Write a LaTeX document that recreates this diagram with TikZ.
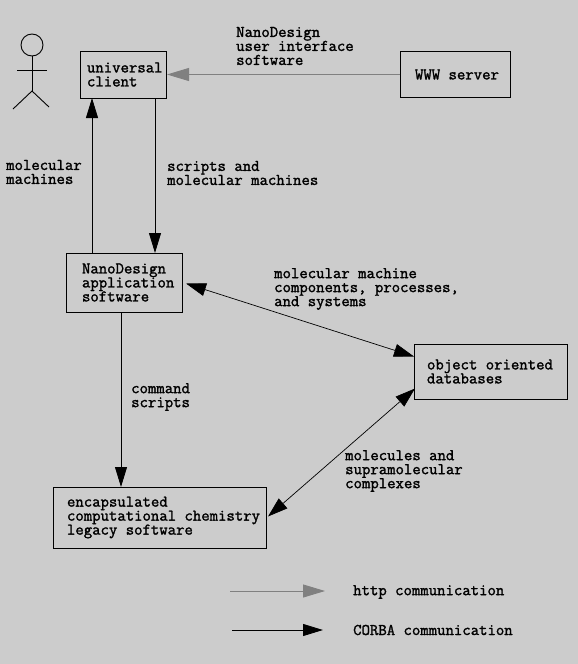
\documentclass[tikz,border=0pt]{standalone}
\usepackage{fontspec}
\usepackage{tikz}
\usetikzlibrary{arrows.meta, calc, positioning}
\newfontfamily\labelfont[FakeBold=1.6, WordSpace={1,0,0}]{Latin Modern Mono}

\begin{document}
\begin{tikzpicture}[
    x=1pt, y=-1pt,
    every node/.style={font=\fontsize{16.3}{14}\selectfont\labelfont},
    box/.style={rectangle, draw, line width=1pt, inner xsep=0pt, inner ysep=0pt, outer sep=0pt},
    pad/.style={execute at begin node={\leftskip=#1\relax\spaceskip=0pt\relax\xspaceskip=0pt\relax}},
    note/.style={anchor=west, align=left, inner sep=0pt},
    corba/.style={-{Triangle[length=20pt, width=12pt]}, line width=0.9pt},
    corbaboth/.style={{Triangle[length=20pt, width=13pt]}-{Triangle[length=20pt, width=13pt]}, line width=0.7pt},
    http/.style={-{Triangle[length=22pt, width=13pt]}, line width=0.9pt, draw=black!50, fill=black!50},
]

\fill[black!20] (0,0) rectangle (578,664);
\useasboundingbox (0,0) rectangle (578,664);

% actor
\node[circle, draw, line width=0.9pt, minimum size=22pt, inner sep=0pt, outer sep=0pt] (head) at (32,45) {};
\coordinate (hip) at (32,91);
\draw[line width=0.9pt] (head.south) -- (hip);
\draw[line width=0.9pt] (17,70) -- (47,70);
\draw[line width=0.9pt] (13,109) -- (hip) -- (49,107);

\node[box, text width=86pt, minimum height=47pt, pad=7pt] (client) at (123,74.5) {universal\\client};
\node[box, text width=110pt, minimum height=46pt, pad=15pt] (www) [right=234pt of client] {WWW server};
\node[box, text width=116pt, minimum height=59pt, pad=16pt] (app) [below=155pt of client, xshift=1pt] {NanoDesign\\application\\software};
\node[box, text width=153pt, minimum height=55pt, pad=13pt] (db) [right=232pt of app, yshift=-89pt] {object oriented\\databases};
\node[box, text width=213pt, minimum height=61pt, pad=14pt] (legacy) [below=175pt of app, xshift=35.5pt] {encapsulated\\computational chemistry\\legacy software};

\node[note] (uilabel) at (236,46) {NanoDesign\\user interface\\software};
\node[note] (machlabel) at (6,172) {molecular\\machines};
\node[note] (scriptlabel) at (167,173) {scripts and\\molecular machines};
\node[note] (partlabel) at (274,289) {molecular machine\\components, processes,\\and systems};
\node[note] (cmdlabel) at (131,397) {command\\scripts};
\node[note] (molelabel) at (345,471) {molecules and\\supramolecular\\complexes};

\draw[http] (www.west) -- ($(client.east)+(1,0)$);
\draw[corba] ($(app.north west)+(26,0)$) -- ($(client.south west)+(12,0)$);
\draw[corba] ($(client.south west)+(75,0)$) -- ($(app.north west)+(89,0)$);
\draw[corba] ($(app.south west)+(55,0)$) -- ($(legacy.north west)+(68,0)$);
\draw[corbaboth] ($(app.east)+(4,1)$) -- ($(db.west)+(0,-15)$);
\draw[corbaboth] ($(legacy.east)+(2,-1)$) -- ($(db.west)+(1,17)$);

% legend
\coordinate (httpstart) at (230,591);
\coordinate (httpend) at (325,591);
\coordinate (corbastart) at (232,630);
\coordinate (corbaend) at (323,630);
\draw[http] (httpstart) -- (httpend);
\draw[corba] (corbastart) -- (corbaend);
\node[note] (httplabel) at (353,592) {http communication};
\node[note] (corbalabel) at (353,630) {CORBA communication};

\end{tikzpicture}
\end{document}
